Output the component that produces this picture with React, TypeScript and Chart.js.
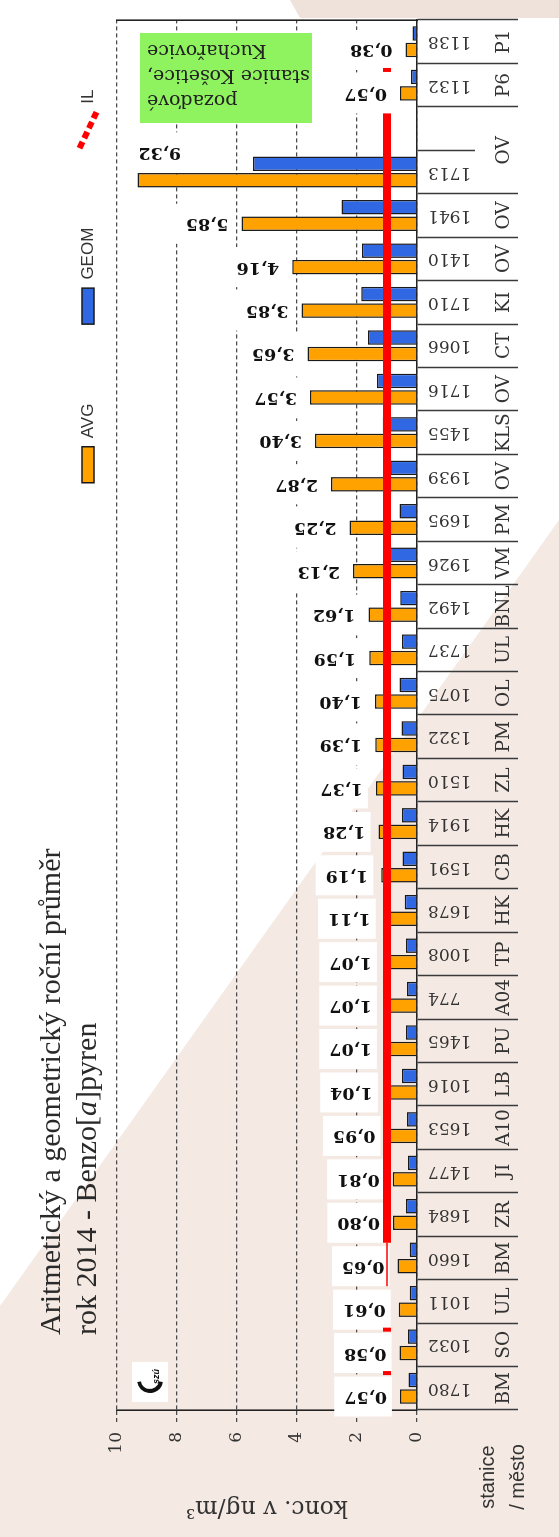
import React, { useEffect, useRef } from "react";
import { Chart, registerables } from "chart.js";

Chart.register(...registerables);

// ---------- data (original chart order, left -> right) ----------
const STATIONS = ["1780", "1032", "1011", "1660", "1684", "1477", "1653", "1016", "1465", "774", "1008", "1678", "1591", "1914", "1510", "1322", "1075", "1737", "1492", "1926", "1695", "1939", "1455", "1716", "1066", "1710", "1410", "1941", "1713", "", "1132", "1138"];
const CITIES = ["BM", "SO", "UL", "BM", "ZR", "JI", "A10", "LB", "PU", "A04", "TP", "HK", "CB", "HK", "ZL", "PM", "OL", "UL", "BNL", "VM", "PM", "OV", "KLS", "OV", "CT", "KI", "OV", "OV", "OV", "", "P6", "P1"];
const AVG = [0.57, 0.58, 0.61, 0.65, 0.8, 0.81, 0.95, 1.04, 1.07, 1.07, 1.07, 1.11, 1.19, 1.28, 1.37, 1.39, 1.4, 1.59, 1.62, 2.13, 2.25, 2.87, 3.4, 3.57, 3.65, 3.85, 4.16, 5.85, 9.32, null, 0.57, 0.38];
const GEOM = [0.28, 0.3, 0.24, 0.24, 0.37, 0.3, 0.33, 0.5, 0.37, 0.33, 0.37, 0.41, 0.48, 0.5, 0.48, 0.52, 0.58, 0.5, 0.56, 0.95, 0.58, 0.89, 1.14, 1.33, 1.63, 1.86, 1.83, 2.52, 5.47, null, 0.2, 0.15];
const IL_LIMIT = 1;
const SERIES = ["AVG", "GEOM", "IL"];
const Y_MIN = 0;
const Y_MAX = 10;
const Y_STEP = 2;
const TITLE_LINE_1 = "Aritmetický a geometrický roční průměr";
const TITLE_LINE_2 = ["rok 2014 - Benzo[", "a", "]pyren"];
const Y_TITLE = "konc. v ng/m³";
const NOTE_LINES = ["pozaďové", "stanice Košetice,", "Kuchařovice"];
const CORNER_LINES = ["stanice", "/ město"];

// ---------- style ----------
const W = 1537;
const H = 559;
const SERIF = '"DejaVu Serif", serif';
const TSERIF = '"Liberation Serif", "Times New Roman", serif';
const SANS = '"Liberation Sans", Arial, sans-serif';
const ORANGE = "#FFA200";
const BLUE = "#3068E4";
const RED = "#FF0000";
const INK = "#1a1a1a";
const TXT = "#333333";
const GRID = "#4a4a4a";
const IL_SHIFT = 0.35; // IL series drawn slightly right of the category centre
const IL_THICK = [3, 29];
const IL_THIN = [2, 3];
const IL_MARKS = [0, 1, 30];
const N = STATIONS.length;

const fmt = (v: number) => v.toFixed(2).replace(".", ",");

// city groups (an empty city continues the previous group)
type Group = { start: number; end: number; label: string };
const GROUPS: Group[] = [];
CITIES.forEach((c, i) => {
  if (c === "" && GROUPS.length) GROUPS[GROUPS.length - 1].end = i;
  else GROUPS.push({ start: i, end: i, label: c });
});
const X2_TICKS: { value: number; label: string }[] = [];
GROUPS.forEach((g) => {
  X2_TICKS.push({ value: g.start - 0.5, label: "" });
  X2_TICKS.push({ value: (g.start + g.end) / 2, label: g.label });
});
X2_TICKS.push({ value: N - 0.5, label: "" });

const IL_SERIES = STATIONS.map(() => IL_LIMIT);

const decorPlugin = {
  id: "decor",
  beforeDatasetsDraw(chart: any) {
    const { ctx, chartArea: ca } = chart;
    // note box (background stations)
    ctx.save();
    ctx.fillStyle = "#8FF25F";
    const nx0 = ca.right - 103;
    const ny0 = ca.top + 23;
    ctx.fillRect(nx0, ny0, 90, 172);
    ctx.font = `19px ${SERIF}`;
    ctx.fillStyle = "#222";
    NOTE_LINES.forEach((t, k) => {
      ctx.save();
      ctx.translate(nx0 + 23 + k * 25, ca.top + 30);
      ctx.rotate(-Math.PI / 2);
      ctx.textAlign = "right";
      ctx.textBaseline = "middle";
      ctx.fillText(t, 0, 0);
      ctx.restore();
    });
    ctx.restore();

    // logo
    ctx.save();
    ctx.fillStyle = "#fff";
    const lx = ca.left + 8;
    const ly = ca.top + 15;
    ctx.fillRect(lx, ly, 40, 36);
    ctx.strokeStyle = "#111";
    ctx.lineWidth = 4;
    ctx.beginPath();
    ctx.arc(lx + 22, ly + 18, 11, Math.PI * 0.55, Math.PI * 1.45);
    ctx.stroke();
    ctx.fillStyle = "#111";
    ctx.font = `bold italic 9px ${SANS}`;
    ctx.textAlign = "left";
    ctx.textBaseline = "middle";
    ctx.fillText("szú", lx + 18, ly + 25);
    ctx.restore();

    // AVG value labels
    const meta = chart.getDatasetMeta(0);
    ctx.save();
    ctx.font = `bold 17.5px ${SERIF}`;
    meta.data.forEach((bar: any, i: number) => {
      const v = AVG[i];
      if (v == null) return;
      const text = fmt(v);
      const tw = ctx.measureText(text).width;
      let u = bar.x;
      let start = bar.y - 13;
      if (start - tw - 4 < ca.top) {
        u = bar.x + 28;
        start = bar.y + 1 + tw;
      }
      const end = start - tw;
      ctx.fillStyle = "#ffffff";
      ctx.fillRect(u - 20, end - 10, 40, tw + 15);
      ctx.save();
      ctx.translate(u, start);
      ctx.rotate(-Math.PI / 2);
      ctx.textAlign = "left";
      ctx.textBaseline = "middle";
      ctx.fillStyle = "#111";
      ctx.fillText(text, 0, 0);
      ctx.restore();
    });
    ctx.restore();
  },
  beforeDatasetDraw(chart: any, args: any) {
    if (chart.data.datasets[args.index].label !== SERIES[2]) return;
    const x = chart.scales.x;
    const dx = (x.getPixelForValue(1) - x.getPixelForValue(0)) * IL_SHIFT;
    chart.ctx.save();
    chart.ctx.translate(dx, 0);
  },
  afterDatasetDraw(chart: any, args: any) {
    if (chart.data.datasets[args.index].label !== SERIES[2]) return;
    chart.ctx.restore();
  },
  afterDraw(chart: any) {
    const { ctx, chartArea: ca } = chart;
    ctx.save();
    ctx.fillStyle = "#2a2a2a";
    ctx.textBaseline = "middle";
    ctx.textAlign = "left";
    const tx = ca.left + 75;
    ctx.font = `30px ${TSERIF}`;
    ctx.fillText(TITLE_LINE_1, tx, ca.top - 65);
    let x = tx;
    TITLE_LINE_2.forEach((seg, k) => {
      ctx.font = k === 1 ? `italic 30px ${TSERIF}` : `30px ${TSERIF}`;
      ctx.fillText(seg, x, ca.top - 29);
      x += ctx.measureText(seg).width;
    });
    ctx.font = `20px ${SANS}`;
    ctx.fillStyle = TXT;
    ctx.textAlign = "center";
    CORNER_LINES.forEach((t, k) => {
      ctx.fillText(t, ca.left - 67, ca.bottom + 71 + k * 30);
    });
    ctx.restore();
  },
};

export default function App() {
  const ref = useRef<HTMLCanvasElement>(null);
  useEffect(() => {
    const canvas = ref.current;
    if (!canvas) return;
    const chart = new Chart(canvas, {
      type: "bar",
      data: {
        labels: STATIONS,
        datasets: [
          {
            type: "bar",
            label: SERIES[0],
            data: AVG,
            xAxisID: "x",
            yAxisID: "y",
            backgroundColor: ORANGE,
            borderColor: INK,
            borderWidth: 1.5,
            categoryPercentage: 0.76,
            barPercentage: 0.88,
            order: 1,
          },
          {
            type: "bar",
            label: SERIES[1],
            data: GEOM,
            xAxisID: "x",
            yAxisID: "y",
            backgroundColor: BLUE,
            borderColor: INK,
            borderWidth: 1.5,
            categoryPercentage: 0.76,
            barPercentage: 0.88,
            order: 1,
          },
          {
            type: "line",
            label: SERIES[2],
            data: IL_SERIES,
            xAxisID: "x",
            yAxisID: "y",
            borderColor: RED,
            backgroundColor: RED,
            borderWidth: 8,
            borderCapStyle: "butt",
            pointStyle: "line",
            pointRotation: 90,
            pointBorderColor: RED,
            pointBorderWidth: 4,
            pointRadius: (c: any) => (IL_MARKS.includes(c.dataIndex) ? 4 : 0),
            pointHoverRadius: 0,
            order: 0,
            segment: {
              borderWidth: (c: any) => (c.p0DataIndex >= IL_THICK[0] && c.p1DataIndex <= IL_THICK[1] ? 8 : 1.5),
              borderColor: (c: any) =>
                (c.p0DataIndex >= IL_THICK[0] && c.p1DataIndex <= IL_THICK[1]) ||
                (c.p0DataIndex >= IL_THIN[0] && c.p1DataIndex <= IL_THIN[1])
                  ? RED
                  : "rgba(0,0,0,0)",
            },
          } as any,
        ],
      },
      options: {
        responsive: false,
        animation: false,
        devicePixelRatio: 1,
        layout: { padding: { top: 0, left: 0, right: 10, bottom: 41 } },
        plugins: {
          title: { display: false },
          tooltip: { enabled: false },
          legend: {
            display: true,
            position: "top",
            align: "end",
            labels: {
              usePointStyle: true,
              pointStyleWidth: 36,
              boxHeight: 12,
              padding: 79.5,
              color: TXT,
              font: { family: SANS, size: 17 },
              sort: (a: any, b: any) => a.datasetIndex - b.datasetIndex,
              generateLabels: (ch: any) => {
                const items = (Chart.defaults.plugins.legend.labels as any).generateLabels(ch);
                return items.map((it: any) =>
                  it.datasetIndex === 2
                    ? { ...it, pointStyle: "line", lineWidth: 6, lineDash: [7, 4], strokeStyle: RED, fillStyle: RED }
                    : { ...it, pointStyle: "rect", lineWidth: 1.5, lineDash: [], strokeStyle: INK }
                );
              },
            },
          },
        },
        scales: {
          x: {
            type: "category",
            position: "bottom",
            weight: 0,
            offset: true,
            grid: {
              display: true,
              drawOnChartArea: false,
              drawTicks: true,
              tickLength: 58,
              tickWidth: 1.5,
              tickColor: "#3a3a3a",
              offset: true,
            },
            border: { display: true, color: "#222", width: 1.6 },
            ticks: {
              autoSkip: false,
              minRotation: 90,
              maxRotation: 90,
              padding: -47,
              color: TXT,
              font: { family: SERIF, size: 17 },
            },
            afterFit: (s: any) => {
              s.height = 58;
            },
          },
          x2: {
            type: "linear",
            position: "bottom",
            weight: 1,
            offset: false,
            min: -0.5,
            max: N - 0.5,
            afterBuildTicks: (s: any) => {
              s.ticks = X2_TICKS.map((t) => ({ value: t.value }));
            },
            ticks: {
              autoSkip: false,
              minRotation: 0,
              maxRotation: 0,
              padding: -24.5,
              color: TXT,
              font: { family: SERIF, size: 18.5 },
              callback: (v: any) => {
                const t = X2_TICKS.find((k) => Math.abs(k.value - v) < 1e-6);
                return t ? t.label : "";
              },
            },
            grid: {
              display: true,
              offset: false,
              drawOnChartArea: false,
              drawTicks: true,
              tickLength: 43,
              tickWidth: 1.5,
              tickColor: (c: any) => (c.tick && c.tick.label === "" ? "#3a3a3a" : "rgba(0,0,0,0)"),
            },
            border: { display: false },
            afterFit: (s: any) => {
              s.height = 43;
            },
          },
          xt: {
            type: "linear",
            position: "top",
            display: true,
            offset: false,
            grid: { display: false, offset: false },
            ticks: { display: false },
            border: { display: false },
            afterFit: (s: any) => {
              s.height = 10.5;
            },
          },
          y: {
            type: "linear",
            position: "left",
            min: Y_MIN,
            max: Y_MAX,
            ticks: {
              stepSize: Y_STEP,
              padding: 10,
              color: TXT,
              font: { family: SERIF, size: 17 },
            },
            grid: {
              color: GRID,
              lineWidth: 1.3,
              tickLength: 12,
              tickColor: GRID,
              tickWidth: 1.3,
              tickBorderDash: [4, 3],
            },
            border: { display: true, color: "#222", width: 1.6, dash: [4, 3] },
            title: {
              display: true,
              text: Y_TITLE,
              color: TXT,
              font: { family: SERIF, size: 23.5 },
              padding: { top: 16, bottom: 0 },
            },
            afterFit: (s: any) => {
              s.width = 127;
            },
          },
          y2: {
            type: "linear",
            position: "right",
            display: true,
            min: Y_MIN,
            max: Y_MAX,
            grid: { display: false },
            ticks: { display: false },
            border: { display: true, color: "#222", width: 1.6 },
            afterFit: (s: any) => {
              s.width = 10;
            },
          },
        },
      } as any,
      plugins: [decorPlugin],
    });
    return () => chart.destroy();
  }, []);

  return (
    <>
      <svg
        width={559}
        height={1537}
        style={{ position: "fixed", left: 0, top: 0, display: "block" }}
      >
        <rect x={0} y={0} width={559} height={1537} fill="#ffffff" />
        <polygon points="0,1306 559,520 559,1537 0,1537" fill="#f4e9e3" />
        <polygon points="290,0 559,0 559,18 300,18" fill="#eee2da" />
      </svg>
      <div
        style={{
          position: "fixed",
          left: 0,
          top: 0,
          width: W,
          height: H,
          transformOrigin: "0 0",
          transform: `translateY(${W}px) rotate(-90deg)`,
        }}
      >
        <canvas ref={ref} width={W} height={H} style={{ width: W, height: H, display: "block" }} />
      </div>
    </>
  );
}
